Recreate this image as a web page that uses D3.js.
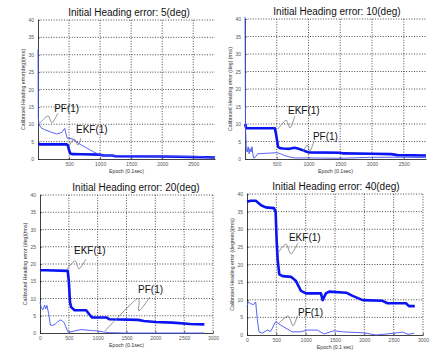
<!DOCTYPE html>
<html>
<head>
<meta charset="utf-8">
<script src="https://cdn.jsdelivr.net/npm/d3@7"></script>
<style>
  body { margin: 0; background: #fff; }
  svg { display: block; }
</style>
</head>
<body>
<div id="chart"></div>
<script>
// ---- data ----
const yTicks = [0, 5, 10, 15, 20, 25, 30, 35, 40];
const xTicksShort = [500, 1000, 1500, 2000, 2500];
const xTicksLong = [0, 500, 1000, 1500, 2000, 2500, 3000];

const titles = ["Initial Heading error: 5(deg)", "Initial Heading error: 10(deg)",
                "Initial Heading error: 20(deg)", "Initial Heading error: 40(deg)"];
const yLabels = ["Calibrated Heading error(deg)(rms)", "Calibrated Heading error (deg) (rms)",
                 "Calibrated Heading error (deg)(rms)", "Calibrated Heading error (degrees)(rms)"];
const xLabels = ["Epoch (0.1sec)", "Epoch (0.1sec)", "Epoch (0.1sec)", "Epoch (0.1 sec)"];

// 5 deg
const ekf5Epoch = [0, 460, 480, 500, 520, 560, 700, 1000, 1050, 1200, 1250, 2000, 2700, 2850];
const ekf5Err   = [4.2, 4.2, 4.0, 2.5, 1.6, 1.4, 1.35, 1.25, 1.0, 1.0, 0.8, 0.7, 0.5, 0.45];
const pf5Epoch  = [0, 5, 15, 50, 100, 200, 300, 380, 430, 455, 470, 550, 600, 700, 800, 900, 1000, 1100, 1500, 2000, 2500, 2660, 2700, 2850];
const pf5Err    = [31.5, 12, 10, 9, 8.5, 7.8, 7.2, 7.6, 8.8, 7, 6, 5.8, 5.2, 4.0, 3.0, 2.0, 1.2, 1.0, 0.9, 0.8, 0.75, 0.7, 0.35, 0.3];

// 10 deg
const ekf10Epoch = [0, 20, 470, 490, 520, 550, 600, 700, 780, 830, 900, 950, 1000, 1500, 1550, 2000, 2300, 2400, 2850];
const ekf10Err   = [10, 8.8, 8.8, 7, 3.5, 3.1, 3.0, 2.9, 3.2, 3.0, 2.6, 2.2, 1.9, 1.8, 1.6, 1.5, 1.4, 1.1, 1.0];
const pf10Epoch  = [0, 8, 20, 35, 50, 65, 80, 95, 110, 125, 140, 160, 200, 300, 400, 500, 560, 620, 700, 780, 1000, 1500, 2000, 2500, 2850];
const pf10Err    = [40.6, 9, 3, 2, 3.5, 1.5, 3, 2, 3.5, 1.2, 0.2, 0.5, 1.5, 1.6, 1.7, 1.8, 1.5, 1.0, 0.6, 0.3, 0.3, 0.2, 0.5, 0.5, 0.4];

// 20 deg
const ekf20Epoch = [0, 100, 480, 500, 520, 540, 600, 800, 850, 900, 1150, 1200, 1700, 1800, 2000, 2300, 2600, 2850];
const ekf20Err   = [18.2, 18.2, 18, 15, 9, 7.5, 6.6, 6.6, 5.5, 4.5, 4.5, 4.0, 3.8, 3.5, 3.2, 3.0, 2.6, 2.5];
const pf20Epoch  = [0, 20, 50, 80, 100, 120, 150, 180, 220, 260, 310, 360, 420, 485, 500, 600, 715, 900, 1000, 1100, 1200, 1500, 2000, 2850];
const pf20Err    = [9, 7.5, 6.7, 8.1, 7, 8, 5.6, 2.3, 2.2, 2.5, 3.3, 3.8, 3.0, 0.3, 0.2, 0.6, 1.0, 0.7, 0.6, 0.3, 0.1, 0.0, 0.0, 0.0];

// 40 deg
const ekf40Epoch = [0, 60, 150, 240, 320, 460, 488, 505, 522, 550, 608, 750, 835, 920, 1005, 1260, 1290, 1345, 1400, 1690, 1800, 1972, 2310, 2395, 2710, 2760, 2860];
const ekf40Err   = [37.8, 38.1, 38.1, 36.8, 36.2, 36, 35, 27, 21.5, 17.2, 16.7, 16.5, 15.3, 12.5, 11.8, 11.8, 9.9, 11.8, 12.3, 12, 11.1, 9.9, 9.7, 9.0, 9.0, 8.2, 8.2];
const pf40Epoch  = [0, 20, 63, 110, 148, 176, 205, 261, 346, 403, 489, 574, 771, 914, 1028, 1198, 1312, 1482, 1624, 2000, 2200, 2500, 2650, 2750, 2850];
const pf40Err    = [8, 9.4, 8.9, 8.6, 9.4, 4.3, 0.9, 0.5, 1.4, 1.0, 3.8, 2.8, 0.9, 0.9, 1.4, 1.4, 0.3, 1.2, 0.9, 0.6, 0.0, 0.5, 0.8, 0.2, 0.5];

// callouts: [epoch, error] points, label anchored at [epoch, error]
const notes5  = [{ text: "PF(1)",  at: [260, 13.6], path: [[32, 10.4], [161, 12.4], [225, 10.4], [322, 13.2]] },
                 { text: "EKF(1)", at: [612, 7.5],  path: [[500, 3.7], [580, 5.8], [644, 4.0], [692, 6.0]] }];
const notes10 = [{ text: "EKF(1)", at: [677, 12.9], path: [[520, 8.6], [646, 11.1], [709, 8.9], [787, 12.3]] },
                 { text: "PF(1)",  at: [1070, 5.4], path: [[913, 2.0], [976, 4.0], [1024, 2.3], [1087, 5.1]] }];
const notes20 = [{ text: "EKF(1)", at: [590, 22.8], path: [[468, 18.6], [607, 20.9], [676, 18.6], [797, 21.4]] },
                 { text: "PF(1)",  at: [1700, 11.7], path: [[1127, 0.6], [1682, 9.9], [1716, 6.4], [1906, 10.4]] }];
const notes40 = [{ text: "EKF(1)", at: [715, 26.7], path: [[528, 23.3], [664, 25.8], [750, 23], [869, 26.1]] },
                 { text: "PF(1)",  at: [869, 5.4],  path: [[528, 3.1], [698, 5.4], [784, 2.6], [860, 5.4]] }];

// ---- layout ----
const panels = [
  { left: 38,  right: 215, top: 20,  bottom: 159, xMax: 2850, xTicks: xTicksShort, titleX: 129,
    ekf: [ekf5Epoch, ekf5Err], pf: [pf5Epoch, pf5Err], notes: notes5 },
  { left: 245, right: 426, top: 19,  bottom: 159, xMax: 2850, xTicks: xTicksShort, titleX: 337,
    ekf: [ekf10Epoch, ekf10Err], pf: [pf10Epoch, pf10Err], notes: notes10 },
  { left: 40,  right: 213, top: 195, bottom: 333, xMax: 3000, xTicks: xTicksLong, titleX: 136,
    ekf: [ekf20Epoch, ekf20Err], pf: [pf20Epoch, pf20Err], notes: notes20 },
  { left: 247, right: 423, top: 194, bottom: 335, xMax: 3000, xTicks: xTicksLong, titleX: 336,
    ekf: [ekf40Epoch, ekf40Err], pf: [pf40Epoch, pf40Err], notes: notes40 }
];

const svg = d3.select("#chart").append("svg")
  .attr("width", 432)
  .attr("height", 352)
  .style("font-family", "'Liberation Sans', Arial, sans-serif");

svg.append("rect").attr("width", 432).attr("height", 352).attr("fill", "#fff");

panels.forEach((p, i) => {
  const x = d3.scaleLinear().domain([0, p.xMax]).range([p.left, p.right]);
  const y = d3.scaleLinear().domain([0, 40]).range([p.bottom, p.top]);
  const g = svg.append("g");

  // dotted grid
  g.append("g")
    .selectAll("line")
    .data(p.xTicks.filter(d => d > 0))
    .join("line")
      .attr("x1", d => x(d)).attr("x2", d => x(d))
      .attr("y1", p.top).attr("y2", p.bottom)
      .attr("stroke", "#111").attr("stroke-width", 0.75)
      .attr("stroke-dasharray", "1,1.6");
  g.append("g")
    .selectAll("line")
    .data(yTicks.filter(d => d > 0))
    .join("line")
      .attr("x1", p.left).attr("x2", p.right)
      .attr("y1", d => y(d)).attr("y2", d => y(d))
      .attr("stroke", "#111").attr("stroke-width", 0.75)
      .attr("stroke-dasharray", "1,1.6");

  // axes
  const yAxis = g.append("g")
    .attr("transform", `translate(${p.left},0)`)
    .call(d3.axisLeft(y).tickValues(yTicks).tickFormat(d3.format("d"))
      .tickSizeInner(-2).tickSizeOuter(0).tickPadding(4));
  const xAxis = g.append("g")
    .attr("transform", `translate(0,${p.bottom})`)
    .call(d3.axisBottom(x).tickValues(p.xTicks).tickFormat(d3.format("d"))
      .tickSizeInner(-2).tickSizeOuter(0).tickPadding(3));
  [yAxis, xAxis].forEach(a => {
    a.select(".domain").attr("stroke", "#111").attr("stroke-width", 0.8);
    a.selectAll(".tick line").attr("stroke", "#111").attr("stroke-width", 0.6);
    a.selectAll("text").attr("font-size", 5).attr("fill", "#555");
  });

  // lines
  const line = d3.line()
    .x(d => x(d[0]))
    .y(d => y(d[1]));

  g.append("path")
    .datum(p.ekf[0].map((e, k) => [e, p.ekf[1][k]]))
    .attr("fill", "none")
    .attr("stroke", "#0a14f0")
    .attr("stroke-width", 2.6)
    .attr("stroke-linejoin", "round")
    .attr("d", line);

  g.append("path")
    .datum(p.pf[0].map((e, k) => [e, p.pf[1][k]]))
    .attr("fill", "none")
    .attr("stroke", "#4452f4")
    .attr("stroke-width", 0.9)
    .attr("d", line);

  // callouts
  const wave = d3.line()
    .x(d => x(d[0]))
    .y(d => y(d[1]))
    .curve(d3.curveCardinal.tension(0.2));

  p.notes.forEach(n => {
    g.append("path")
      .attr("d", wave(n.path))
      .attr("fill", "none")
      .attr("stroke", "#777")
      .attr("stroke-width", 0.8);
    g.append("text")
      .attr("x", x(n.at[0]))
      .attr("y", y(n.at[1]))
      .attr("font-size", 10)
      .attr("fill", "#111")
      .text(n.text);
  });

  // titles and labels
  g.append("text")
    .attr("x", p.titleX)
    .attr("y", p.top - 4)
    .attr("text-anchor", "middle")
    .attr("font-size", 10)
    .attr("fill", "#111")
    .text(titles[i]);

  g.append("text")
    .attr("transform", `translate(${p.left - 13},${(p.top + p.bottom) / 2}) rotate(-90)`)
    .attr("text-anchor", "middle")
    .attr("font-size", 5.2)
    .attr("fill", "#333")
    .text(yLabels[i]);

  g.append("text")
    .attr("x", (p.left + p.right) / 2)
    .attr("y", p.bottom + 14)
    .attr("text-anchor", "middle")
    .attr("font-size", 5.2)
    .attr("fill", "#333")
    .text(xLabels[i]);
});
</script>
</body>
</html>
